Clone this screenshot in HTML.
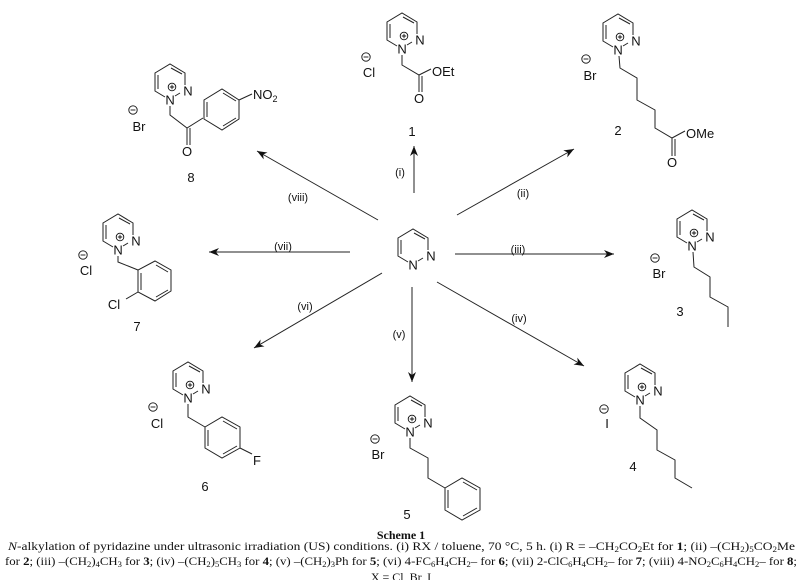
<!DOCTYPE html>
<html><head><meta charset="utf-8"><style>
html,body{margin:0;padding:0;background:#fff;}
svg{display:block;}
text{font-family:"Liberation Sans",sans-serif;fill:#111;}
.a{font-size:13px;}
.l{font-size:11px;}
.s{font-family:"Liberation Serif",serif;font-size:12px;}
</style></head><body>
<svg width="803" height="580" viewBox="0 0 803 580" xmlns="http://www.w3.org/2000/svg">
<defs>
<path id="ring" d="M-5,-3 L-15,-9 L-15,-27 L0,-36 L15,-27 L15,-15 M-12,-11 L-12,-25 M1,-32 L12,-26 M5,-4 L10,-7" fill="none" stroke="#222" stroke-width="1"/>
<g id="plus"><circle cx="0" cy="0" r="3.8" fill="none" stroke="#111" stroke-width="0.9"/><path d="M-2.2,0 H2.2 M0,-2.2 V2.2" stroke="#111" stroke-width="0.9"/></g>
<g id="minus"><circle cx="0" cy="0" r="4.2" fill="none" stroke="#111" stroke-width="0.9"/><path d="M-2.4,0 H2.4" stroke="#111" stroke-width="0.9"/></g>
<marker id="ah" markerWidth="10" markerHeight="8" refX="10" refY="4" orient="auto" markerUnits="userSpaceOnUse"><path d="M0,0 L10,4 L0,8 L3,4 Z" fill="#111"/></marker>
</defs>
<g stroke="#222" stroke-width="1" fill="none">
<line x1="414" y1="193" x2="414" y2="146" marker-end="url(#ah)"/>
<line x1="457" y1="215" x2="574" y2="149" marker-end="url(#ah)"/>
<line x1="455" y1="254" x2="614" y2="254" marker-end="url(#ah)"/>
<line x1="437" y1="282" x2="584" y2="366" marker-end="url(#ah)"/>
<line x1="412" y1="287" x2="412" y2="382" marker-end="url(#ah)"/>
<line x1="382" y1="273" x2="254" y2="348" marker-end="url(#ah)"/>
<line x1="350" y1="252" x2="209" y2="252" marker-end="url(#ah)"/>
<line x1="378" y1="220" x2="257" y2="151" marker-end="url(#ah)"/>
</g>
<g class="l">
<text x="400" y="176" text-anchor="middle">(i)</text>
<text x="523" y="197" text-anchor="middle">(ii)</text>
<text x="518" y="253" text-anchor="middle">(iii)</text>
<text x="519" y="322" text-anchor="middle">(iv)</text>
<text x="399" y="338" text-anchor="middle">(v)</text>
<text x="305" y="310" text-anchor="middle">(vi)</text>
<text x="283" y="250" text-anchor="middle">(vii)</text>
<text x="298" y="201" text-anchor="middle">(viii)</text>
</g>

<g transform="translate(413,265)"><use href="#ring"/><text class="a" x="0" y="4.5" text-anchor="middle">N</text><text class="a" x="18" y="-4.5" text-anchor="middle">N</text></g>

<g transform="translate(402,49)"><use href="#ring"/><use href="#plus" x="2" y="-13"/><text class="a" x="0" y="4.5" text-anchor="middle">N</text><text class="a" x="18" y="-4.5" text-anchor="middle">N</text></g>
<path d="M402,55 L402,65 L419,75 L431,69 M419,75 L419,92 M422,76 L422,92" stroke="#222" fill="none"/>
<text class="a" x="432" y="76">OEt</text><text class="a" x="419" y="103" text-anchor="middle">O</text>
<use href="#minus" x="366" y="57"/><text class="a" x="369" y="77" text-anchor="middle">Cl</text>
<text class="a" x="412" y="136" text-anchor="middle">1</text>

<g transform="translate(618,50)"><use href="#ring"/><use href="#plus" x="2" y="-13"/><text class="a" x="0" y="4.5" text-anchor="middle">N</text><text class="a" x="18" y="-4.5" text-anchor="middle">N</text></g>
<path d="M619,56 L620,68 L637,78 L637,100 L655,110 L655,128 L672,138 L685,131 M672,138 L672,156 M675,139 L675,156" stroke="#222" fill="none"/>
<text class="a" x="686" y="138">OMe</text><text class="a" x="672" y="167" text-anchor="middle">O</text>
<use href="#minus" x="586" y="59"/><text class="a" x="590" y="80" text-anchor="middle">Br</text>
<text class="a" x="618" y="135" text-anchor="middle">2</text>

<g transform="translate(692,246)"><use href="#ring"/><use href="#plus" x="2" y="-13"/><text class="a" x="0" y="4.5" text-anchor="middle">N</text><text class="a" x="18" y="-4.5" text-anchor="middle">N</text></g>
<path d="M693,252 L694,267 L710,277 L710,297 L728,307 L728,327" stroke="#222" fill="none"/>
<use href="#minus" x="655" y="258"/><text class="a" x="659" y="278" text-anchor="middle">Br</text>
<text class="a" x="680" y="316" text-anchor="middle">3</text>

<g transform="translate(640,400)"><use href="#ring"/><use href="#plus" x="2" y="-13"/><text class="a" x="0" y="4.5" text-anchor="middle">N</text><text class="a" x="18" y="-4.5" text-anchor="middle">N</text></g>
<path d="M640,406 L640,418 L657,430 L657,450 L675,460 L675,478 L692,488" stroke="#222" fill="none"/>
<use href="#minus" x="604" y="409"/><text class="a" x="607" y="428" text-anchor="middle">I</text>
<text class="a" x="633" y="471" text-anchor="middle">4</text>

<g transform="translate(410,432)"><use href="#ring"/><use href="#plus" x="2" y="-13"/><text class="a" x="0" y="4.5" text-anchor="middle">N</text><text class="a" x="18" y="-4.5" text-anchor="middle">N</text></g>
<path d="M410,438 L410,448 L428,458 L428,478 L445,488 M445,488 L445,510 L462,520 L480,510 L480,488 L462,478 Z M448,490 L448,508 M463,516 L477,508 M463,482 L477,490" stroke="#222" fill="none"/>
<use href="#minus" x="375" y="439"/><text class="a" x="378" y="459" text-anchor="middle">Br</text>
<text class="a" x="407" y="519" text-anchor="middle">5</text>

<g transform="translate(188,398)"><use href="#ring"/><use href="#plus" x="2" y="-13"/><text class="a" x="0" y="4.5" text-anchor="middle">N</text><text class="a" x="18" y="-4.5" text-anchor="middle">N</text></g>
<path d="M188,404 L188,417 L205,427 M205,427 L205,448 L222,458 L240,448 L240,427 L222,417 Z M208,430 L208,446 M223,454 L237,446 M223,421 L237,429 M240,448 L252,454" stroke="#222" fill="none"/>
<text class="a" x="257" y="465" text-anchor="middle">F</text>
<use href="#minus" x="153" y="407"/><text class="a" x="157" y="428" text-anchor="middle">Cl</text>
<text class="a" x="205" y="491" text-anchor="middle">6</text>

<g transform="translate(118,250)"><use href="#ring"/><use href="#plus" x="2" y="-13"/><text class="a" x="0" y="4.5" text-anchor="middle">N</text><text class="a" x="18" y="-4.5" text-anchor="middle">N</text></g>
<path d="M118,256 L118,262 L138,270 M138,270 L138,292 L155,301 L171,291 L171,270 L155,261 Z M141,273 L141,290 M156,297 L168,290 M156,265 L168,272 M138,292 L126,299" stroke="#222" fill="none"/>
<text class="a" x="114" y="309" text-anchor="middle">Cl</text>
<use href="#minus" x="83" y="255"/><text class="a" x="86" y="275" text-anchor="middle">Cl</text>
<text class="a" x="137" y="331" text-anchor="middle">7</text>

<g transform="translate(170,100)"><use href="#ring"/><use href="#plus" x="2" y="-13"/><text class="a" x="0" y="4.5" text-anchor="middle">N</text><text class="a" x="18" y="-4.5" text-anchor="middle">N</text></g>
<path d="M170,106 L170,115 L187,128 L203,118 M187,128 L187,145 M190,128 L190,145 M204,100 L204,119 L222,130 L239,119 L239,100 L222,89 Z M207,102 L207,117 M223,126 L236,118 M223,93 L236,101 M239,100 L252,94" stroke="#222" fill="none"/>
<text class="a" x="253" y="99">NO<tspan font-size="9" dy="3">2</tspan></text>
<text class="a" x="187" y="156" text-anchor="middle">O</text>
<use href="#minus" x="133" y="110"/><text class="a" x="139" y="131" text-anchor="middle">Br</text>
<text class="a" x="191" y="182" text-anchor="middle">8</text>

<text class="s" x="401" y="539" text-anchor="middle" font-weight="bold">Scheme 1</text>
<text class="s" x="8" y="550" textLength="787" lengthAdjust="spacingAndGlyphs"><tspan font-style="italic">N</tspan>-alkylation of pyridazine under ultrasonic irradiation (US) conditions. (i) RX / toluene, 70 °C, 5 h. (i) R = –CH<tspan font-size="8" dy="2">2</tspan><tspan dy="-2">CO</tspan><tspan font-size="8" dy="2">2</tspan><tspan dy="-2">Et for </tspan><tspan font-weight="bold">1</tspan>; (ii) –(CH<tspan font-size="8" dy="2">2</tspan><tspan dy="-2">)</tspan><tspan font-size="8" dy="2">5</tspan><tspan dy="-2">CO</tspan><tspan font-size="8" dy="2">2</tspan><tspan dy="-2">Me</tspan></text>
<text class="s" x="5" y="565" textLength="792" lengthAdjust="spacingAndGlyphs">for <tspan font-weight="bold">2</tspan>; (iii) –(CH<tspan font-size="8" dy="2">2</tspan><tspan dy="-2">)</tspan><tspan font-size="8" dy="2">4</tspan><tspan dy="-2">CH</tspan><tspan font-size="8" dy="2">3</tspan><tspan dy="-2"> for </tspan><tspan font-weight="bold">3</tspan>; (iv) –(CH<tspan font-size="8" dy="2">2</tspan><tspan dy="-2">)</tspan><tspan font-size="8" dy="2">5</tspan><tspan dy="-2">CH</tspan><tspan font-size="8" dy="2">3</tspan><tspan dy="-2"> for </tspan><tspan font-weight="bold">4</tspan>; (v) –(CH<tspan font-size="8" dy="2">2</tspan><tspan dy="-2">)</tspan><tspan font-size="8" dy="2">3</tspan><tspan dy="-2">Ph for </tspan><tspan font-weight="bold">5</tspan>; (vi) 4-FC<tspan font-size="8" dy="2">6</tspan><tspan dy="-2">H</tspan><tspan font-size="8" dy="2">4</tspan><tspan dy="-2">CH</tspan><tspan font-size="8" dy="2">2</tspan><tspan dy="-2">– for </tspan><tspan font-weight="bold">6</tspan>; (vii) 2-ClC<tspan font-size="8" dy="2">6</tspan><tspan dy="-2">H</tspan><tspan font-size="8" dy="2">4</tspan><tspan dy="-2">CH</tspan><tspan font-size="8" dy="2">2</tspan><tspan dy="-2">– for </tspan><tspan font-weight="bold">7</tspan>; (viii) 4-NO<tspan font-size="8" dy="2">2</tspan><tspan dy="-2">C</tspan><tspan font-size="8" dy="2">6</tspan><tspan dy="-2">H</tspan><tspan font-size="8" dy="2">4</tspan><tspan dy="-2">CH</tspan><tspan font-size="8" dy="2">2</tspan><tspan dy="-2">– for </tspan><tspan font-weight="bold">8</tspan>;</text>
<text class="s" x="401" y="581" text-anchor="middle">X = Cl, Br, I</text>
</svg>
</body></html>
